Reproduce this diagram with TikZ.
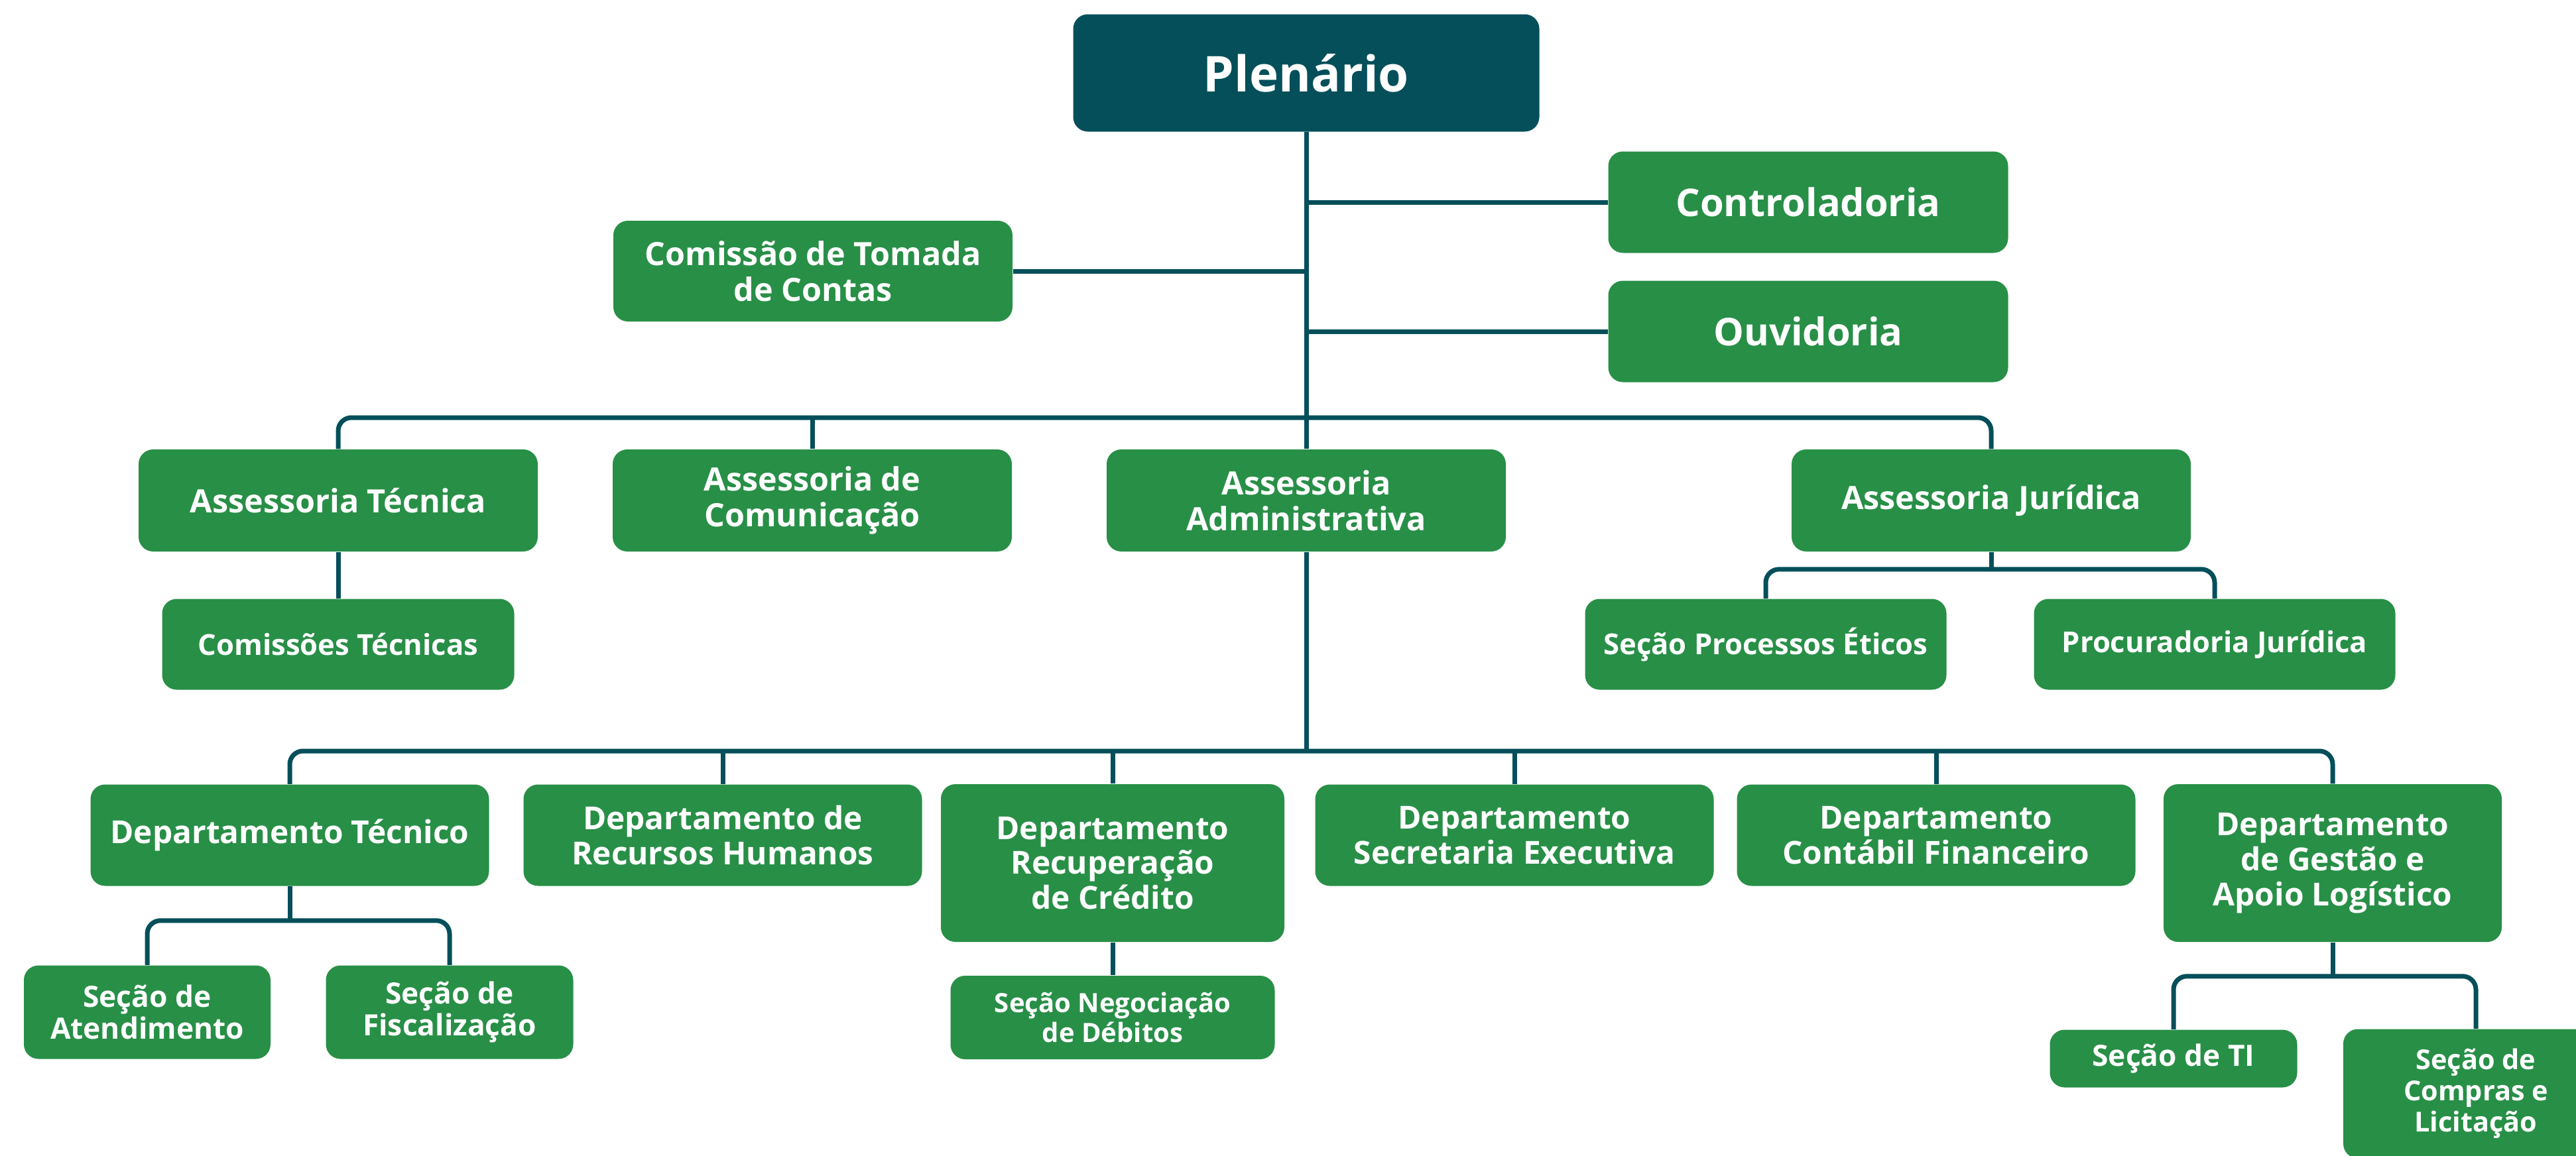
\documentclass[tikz,border=0pt]{standalone}
\usepackage{fontspec}
\setmainfont{Open Sans}
\usepackage{tikz}
\definecolor{kteal}{HTML}{044F5A}
\definecolor{kgreen}{HTML}{288F47}
\tikzset{
  box/.style={fill=kgreen, rounded corners=0.22cm, text=white, align=center, inner sep=0pt},
  kboss/.style={box, fill=kteal, minimum width=7.03cm, minimum height=1.77cm, font=\bfseries\fontsize{21.2}{25}\selectfont},
  kside/.style={box, minimum width=6.03cm, minimum height=1.53cm, font=\bfseries\fontsize{16.4}{19}\selectfont},
  kadv/.style={box, minimum width=6.02cm, minimum height=1.54cm, font=\bfseries\fontsize{13.8}{15.3}\selectfont},
  kdept/.style={box, minimum width=6.01cm, minimum height=1.53cm, font=\bfseries\fontsize{13.6}{15}\selectfont},
  ksec/.style={box, minimum width=3.73cm, minimum height=1.41cm, font=\bfseries\fontsize{12.6}{13.8}\selectfont},
  ksmall/.style={box, minimum width=5.45cm, minimum height=1.37cm, font=\bfseries\fontsize{12.4}{13.5}\selectfont},
  link/.style={draw=kteal, line width=0.07cm, rounded corners=0.2cm},
}
\begin{document}
\begin{tikzpicture}
    \useasboundingbox (0,0) rectangle (38.85,-17.43);
    \clip (0,0) rectangle (38.85,-17.43);
    % top
    \node[kboss] (plen) at (19.70,-1.10) {Plenário};
    \node[kside] (contr) at (27.27,-3.05) {Controladoria};
    \node[kside] (ouv) at (27.27,-5.00) {Ouvidoria};
    \node[kadv, minimum height=1.52cm] (ctc) at (12.26,-4.09) {Comissão de Tomada\\de Contas};
    % assessorias
    \node[kadv] (asstec) at (5.10,-7.55) {Assessoria Técnica};
    \node[kadv] (asscom) at (12.25,-7.55) {Assessoria de\\Comunicação};
    \node[kadv] (assadm) at (19.70,-7.55) {Assessoria\\Administrativa};
    \node[kadv] (assjur) at (30.03,-7.55) {Assessoria Jurídica};
    \node[ksmall, minimum width=5.31cm] (comtec) at (5.10,-9.72) {Comissões Técnicas};
    \node[ksmall] (spe) at (26.63,-9.72) {Seção Processos Éticos};
    \node[ksmall] (procj) at (33.40,-9.72) {Procuradoria Jurídica};
    % departamentos
    \node[kdept] (dtec) at (4.37,-12.60) {Departamento Técnico};
    \node[kdept] (drh) at (10.90,-12.60) {Departamento de\\Recursos Humanos};
    \node[kdept, minimum width=5.18cm, minimum height=2.38cm] (drc) at (16.78,-13.02) {Departamento\\Recuperação\\de Crédito};
    \node[kdept] (dse) at (22.84,-12.60) {Departamento\\Secretaria Executiva};
    \node[kdept] (dcf) at (29.20,-12.60) {Departamento\\Contábil Financeiro};
    \node[kdept, minimum width=5.10cm, minimum height=2.38cm] (dgal) at (35.18,-13.02) {Departamento\\de Gestão e\\Apoio Logístico};
    % secoes
    \node[ksec, minimum width=3.72cm] (satend) at (2.22,-15.27) {Seção de\\Atendimento};
    \node[ksec] (sfisc) at (6.78,-15.27) {Seção de\\Fiscalização};
    \node[ksec, minimum width=4.89cm, minimum height=1.26cm, font=\bfseries\fontsize{11.4}{12.8}\selectfont] (sneg) at (16.78,-15.35) {Seção Negociação\\de Débitos};
    \node[ksec, minimum height=0.87cm] (sti) at (32.78,-15.97) {Seção de TI};
    \node[ksec, minimum width=4.00cm, minimum height=1.95cm, font=\bfseries\fontsize{11.8}{13.4}\selectfont] (scomp) at (37.34,-16.50) {Seção de\\Compras e\\Licitação};
    % trunk
    \coordinate (bus2) at (19.70,-6.30);
    \coordinate (bus3) at (19.70,-11.33);
    \draw[link] (plen.south) -- (assadm.north);
    \draw[link] (contr.west) -- (contr.west -| plen.south);
    \draw[link] (ouv.west) -- (ouv.west -| plen.south);
    \draw[link] (ctc.east) -- (ctc.east -| plen.south);
    \draw[link] (asstec.north) -- (asstec.north |- bus2) -| (assjur.north);
    \draw[link] (asscom.north) -- (asscom.north |- bus2);
    \draw[link] (asstec.south) -- (comtec.north);
    \draw[link] (assjur.south) -- ++(0,-0.27);
    \draw[link] (spe.north) -- ++(0,0.44) -| (procj.north);
    \draw[link] (assadm.south) -- (bus3);
    \draw[link] (dtec.north) -- (dtec.north |- bus3) -| (dgal.north);
    \draw[link] (drh.north) -- (drh.north |- bus3);
    \draw[link] (drc.north) -- (drc.north |- bus3);
    \draw[link] (dse.north) -- (dse.north |- bus3);
    \draw[link] (dcf.north) -- (dcf.north |- bus3);
    \draw[link] (dtec.south) -- ++(0,-0.53);
    \draw[link] (satend.north) -- ++(0,0.67) -| (sfisc.north);
    \draw[link] (drc.south) -- (sneg.north);
    \draw[link] (dgal.south) -- ++(0,-0.52);
    \draw[link] (sti.north) -- ++(0,0.80) -| (scomp.north);
  \end{tikzpicture}
\end{document}
